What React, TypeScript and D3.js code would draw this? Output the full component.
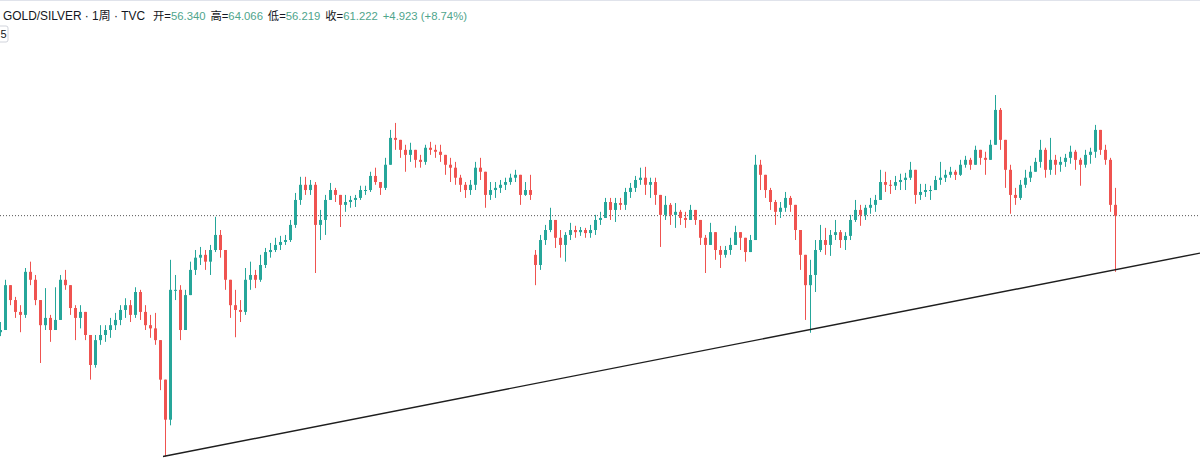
import React from "react";
import * as d3 from "d3";

// GOLD/SILVER weekly (TVC), one candle per ~10 weeks
const highs = [
  32.9, 42.1, 40.8, 38.1, 36.3, 45.1, 46.8, 43.3, 37.4, 40.1,
  34.3, 40.3, 43.3, 44.6, 40.1, 36.3, 36.3, 34.3, 29.6, 30.5,
  32.3, 32.3, 33.7, 34.7, 36.3, 37.8, 37.4, 40.3, 39.7, 36.3,
  34.3, 34.7, 28.8, 23.5, 47.3, 43.3, 40.8, 39.7, 46.8, 50.1,
  51.0, 50.1, 51.6, 60.8, 56.3, 50.1, 42.1, 39.7, 37.4, 45.1,
  46.8, 44.6, 48.7, 50.7, 52.2, 53.8, 54.4, 54.7, 59.7, 69.9,
  76.8, 76.8, 75.4, 74.5, 63.3, 69.1, 74.1, 72.0, 67.1, 69.1,
  68.7, 69.1, 72.9, 72.9, 79.1, 81.0, 74.5, 85.8, 101.0, 105.2,
  95.3, 92.6, 93.7, 89.9, 87.3, 92.6, 94.2, 92.6, 92.6, 87.3,
  85.8, 83.8, 77.7, 74.5, 75.4, 83.8, 85.8, 75.4, 74.5, 74.5,
  75.4, 76.4, 78.2, 80.0, 77.7, 74.5, 77.7, 50.1, 54.7, 58.0,
  64.1, 59.0, 56.3, 55.6, 58.7, 57.7, 57.3, 57.0, 58.0, 61.5,
  62.6, 67.9, 67.9, 67.9, 67.9, 72.0, 74.1, 77.2, 81.0, 81.4,
  76.4, 76.4, 67.1, 68.7, 65.9, 65.9, 63.3, 62.6, 65.2, 62.6,
  59.7, 54.7, 58.7, 53.8, 51.3, 51.3, 53.8, 57.7, 55.6, 53.1,
  54.7, 87.3, 84.8, 76.4, 72.0, 67.1, 66.3, 70.3, 68.7, 65.2,
  54.7, 48.7, 47.3, 53.1, 58.0, 57.0, 56.3, 59.7, 56.3, 55.6,
  61.5, 67.1, 65.2, 65.2, 67.9, 69.1, 80.0, 79.1, 75.4, 77.2,
  78.2, 78.6, 83.8, 75.4, 73.7, 73.7, 72.9, 77.2, 83.8, 80.0,
  81.4, 80.0, 84.8, 86.8, 85.8, 92.1, 89.9, 88.9, 95.3, 123.8,
  114.8, 95.3, 82.4, 72.0, 75.4, 80.0, 81.9, 85.8, 95.3, 91.0,
  96.4, 87.3, 86.3, 87.8, 92.1, 89.9, 85.8, 89.9, 91.0, 104.0,
  101.0, 92.6, 85.8, 72.0,
];

const lows = [
  30.3, 32.3, 36.3, 33.7, 31.0, 33.7, 40.8, 36.3, 25.9, 31.4,
  29.3, 31.4, 33.3, 39.7, 34.3, 29.6, 31.7, 29.6, 23.5, 25.2,
  28.8, 29.3, 30.0, 31.4, 32.3, 33.7, 32.9, 33.7, 33.3, 31.4,
  30.0, 28.8, 22.1, 15.0, 18.0, 37.4, 29.6, 32.3, 38.5, 43.3,
  45.9, 44.6, 43.3, 49.5, 47.9, 39.7, 33.7, 30.1, 32.9, 34.3,
  39.7, 40.1, 41.6, 45.1, 47.9, 49.5, 50.1, 51.6, 52.5, 57.0,
  65.2, 69.1, 69.1, 43.8, 53.1, 54.7, 67.1, 66.3, 57.3, 62.6,
  64.1, 64.4, 67.1, 69.1, 70.3, 73.3, 69.1, 71.1, 82.4, 89.9,
  85.8, 79.1, 83.8, 81.0, 81.0, 82.4, 87.3, 85.8, 83.8, 77.7,
  74.5, 73.3, 70.3, 67.9, 69.1, 71.1, 75.4, 64.1, 67.1, 67.9,
  69.9, 71.1, 73.3, 74.5, 65.2, 68.7, 67.1, 40.8, 44.6, 51.6,
  55.6, 50.7, 47.9, 46.8, 53.1, 53.8, 54.4, 53.8, 53.8, 54.7,
  58.0, 61.5, 59.7, 59.0, 63.3, 63.3, 67.9, 70.3, 73.3, 69.1,
  67.9, 65.2, 51.0, 59.7, 58.0, 57.0, 58.0, 57.0, 59.7, 58.0,
  51.6, 43.8, 51.6, 47.3, 45.1, 47.9, 48.7, 53.1, 50.1, 46.8,
  50.1, 56.3, 71.1, 67.9, 63.3, 58.0, 60.4, 62.6, 62.6, 53.1,
  44.6, 33.3, 30.9, 39.2, 49.5, 48.7, 48.4, 53.1, 50.7, 50.1,
  53.1, 59.0, 57.7, 59.7, 61.9, 62.6, 67.9, 70.3, 69.5, 71.1,
  71.1, 71.1, 75.4, 65.6, 67.1, 68.3, 67.1, 72.0, 73.3, 74.5,
  76.4, 75.4, 77.2, 81.0, 80.0, 84.8, 82.4, 77.7, 84.8, 95.3,
  89.9, 72.0, 61.9, 65.2, 67.1, 72.0, 74.5, 79.1, 81.0, 76.4,
  77.7, 77.7, 79.1, 81.4, 82.9, 80.0, 72.9, 81.0, 82.9, 85.8,
  87.3, 82.4, 62.6, 44.1,
];

const closes = [
  31.4, 40.8, 37.4, 34.9, 34.3, 44.1, 42.1, 37.4, 32.3, 33.7,
  31.4, 33.3, 42.1, 40.8, 35.7, 33.7, 34.9, 30.5, 25.6, 29.6,
  30.5, 31.4, 32.3, 33.3, 35.3, 36.3, 34.3, 39.2, 34.9, 32.3,
  31.7, 29.6, 23.5, 18.6, 39.7, 39.7, 31.4, 38.5, 44.6, 47.9,
  48.7, 46.8, 50.1, 54.7, 50.1, 42.1, 36.3, 35.3, 34.9, 42.1,
  43.3, 42.1, 45.9, 49.5, 50.1, 51.6, 52.5, 53.1, 58.0, 67.1,
  73.3, 71.1, 73.3, 58.0, 59.7, 67.1, 71.1, 69.1, 65.2, 66.3,
  67.1, 67.9, 71.1, 71.1, 77.2, 74.5, 72.0, 82.4, 96.4, 95.3,
  89.9, 87.3, 89.9, 84.8, 83.8, 91.0, 89.9, 88.9, 87.3, 82.4,
  81.0, 76.4, 73.3, 71.1, 73.3, 81.0, 79.1, 69.1, 71.1, 72.0,
  73.3, 74.5, 76.4, 77.7, 69.1, 71.1, 69.1, 45.9, 53.1, 56.3,
  59.7, 53.8, 51.6, 54.7, 56.3, 55.6, 56.3, 55.3, 56.3, 59.7,
  60.4, 66.3, 63.3, 65.9, 65.2, 70.3, 72.0, 75.4, 76.4, 73.3,
  74.5, 69.1, 61.5, 65.2, 61.5, 62.6, 60.4, 59.7, 63.3, 59.7,
  53.8, 51.6, 55.6, 50.1, 48.7, 50.1, 51.6, 55.6, 53.8, 49.5,
  53.1, 82.4, 77.7, 71.1, 66.3, 62.6, 64.1, 67.9, 65.2, 56.3,
  48.7, 40.8, 43.3, 50.1, 53.1, 51.6, 54.7, 55.6, 53.1, 54.4,
  59.7, 63.3, 61.5, 64.1, 65.2, 67.1, 74.5, 73.3, 72.9, 74.5,
  75.4, 76.4, 80.0, 69.1, 70.3, 71.1, 71.1, 75.4, 76.4, 77.7,
  79.1, 77.7, 82.4, 84.8, 82.4, 89.9, 85.8, 84.8, 92.6, 113.5,
  95.3, 80.0, 69.1, 67.9, 73.3, 76.4, 79.1, 83.8, 89.9, 80.0,
  84.8, 82.4, 83.8, 85.8, 88.9, 84.8, 82.4, 87.3, 88.9, 101.0,
  89.9, 84.8, 65.2, 61.222,
];

const firstOpen = 31.0;
const breakIndex = 107; // data gap: first candle after the break
const breakOpen = 48.7;

// support trend line anchors (bar index, ratio)
const trendIdx = [32.6, 240];
const trendVal = [15.0, 49.2];

// legend of the last weekly candle
const symbolTitle = "GOLD/SILVER · 1周 · TVC";
const legendLabels = ["开=", "高=", "低=", "收="];
const legendValues = [56.34, 64.066, 56.219, 61.222];
const lastChange = 4.923;
const lastChangePct = 8.74;

const UP = "#26a69a";
const DOWN = "#ef5350";

export default function App() {
  const W = 1200;
  const H = 465;
  const n = closes.length;
  const x = d3.scaleLinear().domain([0, n - 1]).range([0, 1115]);
  const y = d3.scaleLog().domain([14.7, 127.5]).range([460, 90]);

  const opens = closes.map((c, i) =>
    i === 0 ? firstOpen : i === breakIndex ? breakOpen : closes[i - 1]
  );

  const candles = closes.map((c, i) => {
    const o = opens[i];
    const hi = Math.max(highs[i], o, c);
    const lo = Math.min(lows[i], o, c);
    const up = c >= o;
    const cx = Math.round(x(i));
    const yTop = y(Math.max(o, c));
    const yBot = y(Math.min(o, c));
    return (
      <g key={i}>
        <line
          x1={cx + 0.5}
          x2={cx + 0.5}
          y1={y(hi)}
          y2={y(lo)}
          stroke={up ? UP : DOWN}
          strokeWidth={1}
        />
        <rect
          x={cx - 1}
          y={yTop}
          width={3}
          height={Math.max(1, yBot - yTop)}
          fill={up ? UP : DOWN}
        />
      </g>
    );
  });

  const trendLine = d3
    .line<number>()
    .x((d) => x(trendIdx[d]))
    .y((d) => y(trendVal[d]))([0, 1]);

  const lastY = y(closes[n - 1]);
  const valueColor = "#4fa58c";
  const labelColor = "#131722";
  const font = "'Liberation Sans', Arial, 'Noto Sans CJK SC', sans-serif";

  return (
    <svg
      width={W}
      height={H}
      style={{ position: "absolute", left: 0, top: 0, background: "#fff" }}
      fontFamily={font}
    >
      <rect x={0} y={0} width={W} height={H} fill="#ffffff" />
      <line x1={0} x2={W} y1={0.5} y2={0.5} stroke="#e0e3eb" strokeWidth={1} />

      <line
        x1={0}
        x2={W}
        y1={lastY}
        y2={lastY}
        stroke="#555"
        strokeWidth={1}
        strokeDasharray="1 2"
      />

      <g>{candles}</g>

      <path d={trendLine || ""} fill="none" stroke="#1e1e1e" strokeWidth={1.4} />

      <text
        x={3}
        y={20}
        fontSize={12}
        fill={labelColor}
        textLength={142}
        lengthAdjust="spacingAndGlyphs"
      >
        {symbolTitle}
      </text>
      <text
        x={153}
        y={20}
        fontSize={11.5}
        textLength={314}
        lengthAdjust="spacingAndGlyphs"
      >
        {legendLabels.map((l, i) => (
          <React.Fragment key={l}>
            <tspan fill={labelColor} dx={i === 0 ? 0 : 5}>
              {l}
            </tspan>
            <tspan fill={valueColor}>{legendValues[i].toFixed(3)}</tspan>
          </React.Fragment>
        ))}
        <tspan fill={valueColor} dx={5}>
          {`+${lastChange.toFixed(3)} (+${lastChangePct.toFixed(2)}%)`}
        </tspan>
      </text>

      <rect x={-3} y={26} width={11} height={16} rx={2} fill="#fff" stroke="#d1d4dc" />
      <text x={0.5} y={38} fontSize={11} fill={labelColor}>
        5
      </text>
    </svg>
  );
}
